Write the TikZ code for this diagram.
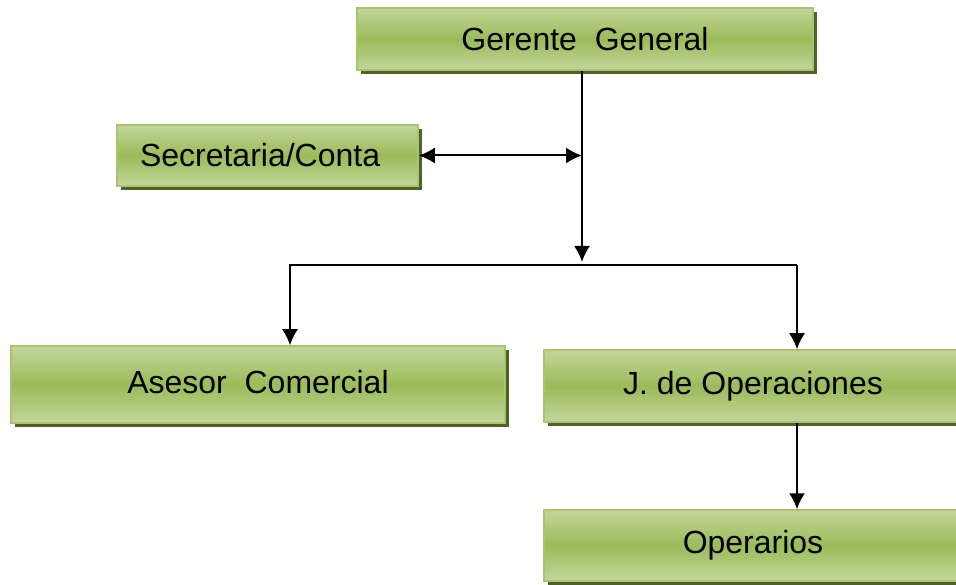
\documentclass[tikz,border=0pt]{standalone}
\usepackage{fontspec}
\setmainfont{Liberation Sans}
\usepackage{tikz}
\usetikzlibrary{arrows.meta,shadows}
\definecolor{boxlight}{HTML}{C3D69B}
\definecolor{boxmid}{HTML}{9BBB59}
\definecolor{boxline}{HTML}{A8C46E}
\definecolor{boxshadow}{HTML}{4F6228}
\tikzset{
  basic/.style  = {rectangle, draw=boxline, line width=1.5pt, inner sep=0pt,
                   top color=boxlight, bottom color=boxlight, middle color=boxmid,
                   drop shadow={shadow xshift=4pt, shadow yshift=-4pt, fill=boxshadow, opacity=1},
                   font=\fontsize{32}{38}\selectfont, align=center},
  link/.style   = {line width=2pt}
}

\begin{document}
\begin{tikzpicture}[x=1pt, y=-1pt, >={Latex[length=16pt,width=16pt]}]
\useasboundingbox (0,0) rectangle (956,585);

% top of the chart
\node[basic, minimum width=456pt, minimum height=62pt] (gg) at (585,39) {Gerente\ \ General};
\node[basic, minimum height=61pt, text width=255pt, inner xsep=23pt, align=left] (sc) at (267.5,155.5) {Secretaria/Conta};

% second level
\node[basic, minimum width=494pt, minimum height=77pt] (ac) at (258,384.5) {\raisebox{6pt}{Asesor\ \ Comercial}};
\node[basic, minimum width=418pt, minimum height=72pt] (jo) at (753,386) {\raisebox{2pt}{J. de Operaciones}};
\node[basic, minimum width=418pt, minimum height=71pt] (op) at (753,545.5) {\raisebox{2pt}{Operarios}};

% branching points
\coordinate (mid) at (582,262);
\coordinate (lft) at (290,265);
\coordinate (rgt) at (797,265);

\draw[link, ->] (gg.south -| mid) -- (mid);
\draw[link, <->] (sc.east) -- (sc.east -| mid);
\draw[link] ([yshift=-3pt]lft) -- (lft) -- (rgt);
\draw[link, ->] ([yshift=-3pt]lft) -- (ac.north -| lft);
\draw[link, ->] (rgt) -- (jo.north -| rgt);
\draw[link, ->] (jo.south -| rgt) -- (op.north -| rgt);
\end{tikzpicture}
\end{document}
